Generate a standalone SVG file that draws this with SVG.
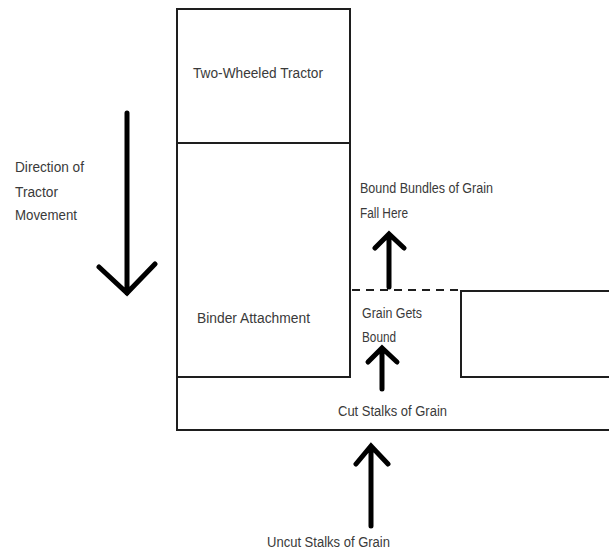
<svg xmlns="http://www.w3.org/2000/svg" width="609" height="550" viewBox="0 0 609 550">
<defs>
<style>
.ln{fill:none;stroke:#1e1e1e;stroke-width:2}
.dash{fill:none;stroke:#1e1e1e;stroke-width:2;stroke-dasharray:8 6}
.arr{fill:none;stroke:#000;stroke-width:5;stroke-linecap:round;stroke-linejoin:miter}
.t{font-family:"Liberation Sans",Arial,sans-serif;font-size:14px;fill:#3a3a3a}
</style>
</defs>
<rect width="609" height="550" fill="#fff"/>
<g id="tractor">
<rect class="ln" x="177" y="9" width="173" height="134"/>
<text class="t" x="193" y="78" textLength="130" lengthAdjust="spacingAndGlyphs">Two-Wheeled Tractor</text>
</g>
<g id="binder">
<path class="ln" d="M177,143 H350 V377 H177 Z"/>
<text class="t" x="197" y="323" textLength="113" lengthAdjust="spacingAndGlyphs">Binder Attachment</text>
</g>
<g id="base">
<path class="ln" d="M177,377 V430 H609"/>
</g>
<g id="right-block">
<path class="ln" d="M609,291 H461 V377 H609"/>
</g>
<g id="labels">
<text class="t" x="15" y="172" textLength="69" lengthAdjust="spacingAndGlyphs">Direction of</text>
<text class="t" x="15" y="197" textLength="43" lengthAdjust="spacingAndGlyphs">Tractor</text>
<text class="t" x="15" y="220" textLength="62" lengthAdjust="spacingAndGlyphs">Movement</text>
<text class="t" x="360" y="193" textLength="133" lengthAdjust="spacingAndGlyphs">Bound Bundles of Grain</text>
<text class="t" x="360" y="218" textLength="48" lengthAdjust="spacingAndGlyphs">Fall Here</text>
<text class="t" x="362" y="318" textLength="60" lengthAdjust="spacingAndGlyphs">Grain Gets</text>
<text class="t" x="362" y="342" textLength="34" lengthAdjust="spacingAndGlyphs">Bound</text>
<text class="t" x="338" y="416" textLength="109" lengthAdjust="spacingAndGlyphs">Cut Stalks of Grain</text>
<text class="t" x="267" y="547" textLength="123" lengthAdjust="spacingAndGlyphs">Uncut Stalks of Grain</text>
</g>
<g id="connectors">
<path class="dash" d="M352,290 H458"/>
<path class="arr" d="M127,113 V293 M99,267 L127,293 L155,264"/>
<path class="arr" d="M389,287 V235 M375,248 L389,234 L404,248"/>
<path class="arr" d="M382,389 V349 M368,362 L382,348 L397,362"/>
<path class="arr" d="M371,526 V447 M356,464 L371,446 L388,464"/>
</g>
</svg>
